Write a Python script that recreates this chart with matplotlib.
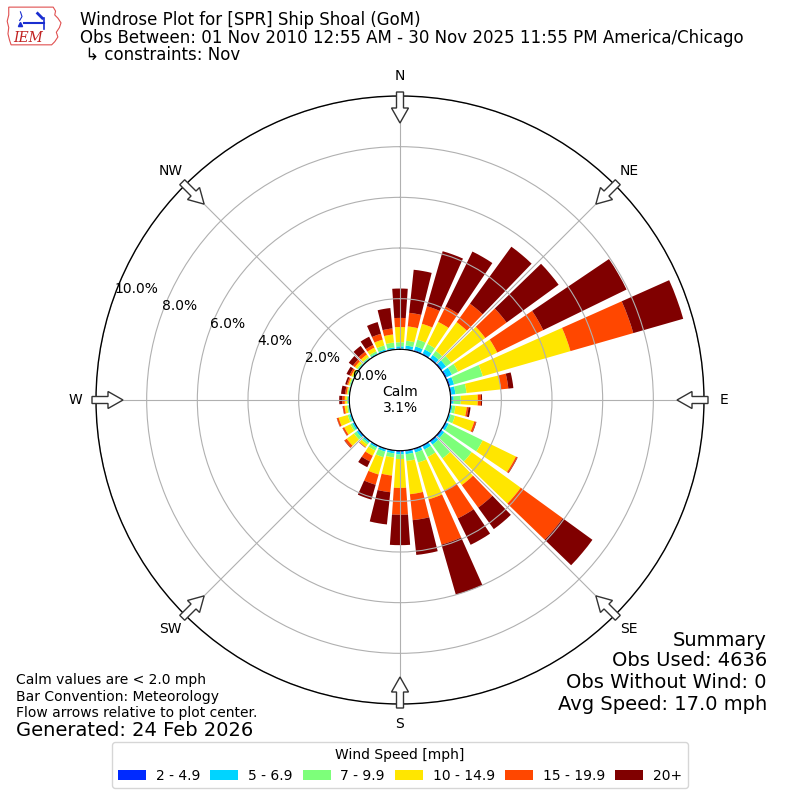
import numpy as np
import matplotlib
matplotlib.use("Agg")
import matplotlib.pyplot as plt
from matplotlib.patches import Patch, Circle, FancyArrow, Polygon

# ---------------- data (percent of observations) ----------------
directions = np.arange(0, 360, 10)  # degrees, direction wind is from
speed_labels = ["2 - 4.9", "5 - 6.9", "7 - 9.9", "10 - 14.9", "15 - 19.9", "20+"]
speed_colors = ["#002aff", "#00d4ff", "#7dff7a", "#ffe600", "#ff4700", "#800000"]

s_2_5 = [.03, .04, .05, .05, .05, .06, .06, .06, .05, .04, .03, .03, .05, .06, .06, .05, .05, .05,
         .05, .04, .04, .04, .04, .05, .04, .03, .02, .02, .02, .02, .02, .02, .02, .02, .02, .03]
s_5_7 = [.09, .12, .15, .17, .15, .19, .22, .16, .15, .08, .05, .06, .09, .10, .12, .13, .11, .10,
         .10, .08, .08, .06, .06, .07, .06, .05, .03, .03, .02, .02, .02, .03, .03, .04, .06, .06]
s_7_10 = [.16, .19, .28, .24, .20, .25, .27, 1.18, .44, .28, .12, .17, 1.49, 1.34, .67, .32, .41, .27,
          .18, .16, .23, .12, .08, .13, .08, .07, .05, .05, .04, .04, .04, .05, .05, .08, .16, .19]
s_10_15 = [.60, .57, .65, .97, 1.40, 1.66, 1.72, 3.60, 1.36, .67, .45, .79, 1.46, 2.39, 1.30, 1.48, 1.51, 1.32,
           1.14, .72, .71, .23, .12, .35, .27, .37, .10, .08, .04, .05, .07, .10, .12, .16, .24, .32]
s_15_20 = [.36, .54, .72, .67, .90, 1.04, 2.02, 2.58, .30, .13, .07, .07, .06, 2.05, 1.10, 1.22, 1.86, 1.03,
           1.06, .66, .42, .25, .02, .10, .07, .07, .07, .10, .06, .05, .07, .10, .13, .12, .24, .24]
s_20p = [1.16, 1.71, 2.26, 2.42, 2.78, 2.54, 3.66, 2.05, .20, .04, .08, .02, .02, 1.45, 1.05, 1.16, 2.06, 1.38,
         1.20, 1.28, .61, .25, .01, .02, .01, .01, .01, .12, .16, .07, .13, .20, .29, .36, .48, .81]
speed_series = [s_2_5, s_5_7, s_7_10, s_10_15, s_15_20, s_20p]

r_ticks = [0, 2, 4, 6, 8, 10]
compass = ["N", "NE", "E", "SE", "S", "SW", "W", "NW"]
compass_deg = [0, 45, 90, 135, 180, 225, 270, 315]
calm_pct = "3.1%"

title_lines = ["Windrose Plot for [SPR] Ship Shoal (GoM)",
               "Obs Between: 01 Nov 2010 12:55 AM - 30 Nov 2025 11:55 PM America/Chicago",
               " \u21b3 constraints: Nov"]
notes = ["Calm values are < 2.0 mph", "Bar Convention: Meteorology",
         "Flow arrows relative to plot center."]
generated = "Generated: 24 Feb 2026"
summary = ["Summary", "Obs Used: 4636", "Obs Without Wind: 0", "Avg Speed: 17.0 mph"]

# ---------------- figure ----------------
fig = plt.figure(figsize=(8, 8), dpi=100)
ax = fig.add_axes([0.12, 0.12, 0.76, 0.76], projection="polar")
ax.set_theta_zero_location("N")
ax.set_theta_direction(-1)
ax.set_rorigin(-2.0)
rmax = 10.0

theta = np.deg2rad(directions)
width = np.deg2rad(8.0)
bottom = np.zeros(len(directions))
for vals, col in zip(speed_series, speed_colors):
    vals = np.asarray(vals)
    ax.bar(theta, vals, width=width, bottom=bottom, color=col, edgecolor="none",
           linewidth=0, zorder=1)
    bottom = bottom + vals

ax.set_ylim(0, rmax)
ax.set_yticks(r_ticks)
ax.set_yticklabels([])
ax.set_xticks(np.deg2rad(compass_deg))
ax.set_xticklabels([])
ax.grid(True, color="#b0b0b0", linewidth=0.8)
ax.spines["polar"].set_color("black")
ax.spines["polar"].set_linewidth(1.0)

# radial labels
lab_ang = np.deg2rad(290)
for r in r_ticks:
    ax.text(lab_ang, r, f"{r:.1f}%", ha="left", va="bottom", fontsize=10, zorder=6)

# compass labels
for lab, d in zip(compass, compass_deg):
    ax.text(np.deg2rad(d), 10.8, lab, ha="center", va="center", fontsize=10)

# calm circle
calm = Circle((0.5, 0.5), 50 / 608, transform=ax.transAxes, facecolor="white",
              edgecolor="black", linewidth=1.2, zorder=4)
ax.add_patch(calm)
ax.text(0.5, 0.5, "Calm\n" + calm_pct, transform=ax.transAxes, ha="center",
        va="center", fontsize=10, zorder=5, linespacing=1.1)

# flow arrows
for d in compass_deg:
    u = np.array([np.sin(np.deg2rad(d)), np.cos(np.deg2rad(d))])
    tail = 0.5 + (308 / 608) * u
    tip = 0.5 + (277 / 608) * u
    arr = FancyArrow(tail[0], tail[1], tip[0] - tail[0], tip[1] - tail[1],
                     width=7 / 608, head_width=17 / 608, head_length=15 / 608,
                     length_includes_head=True, transform=ax.transAxes,
                     facecolor="white", edgecolor="#333333", linewidth=1.0,
                     zorder=7, clip_on=False)
    ax.add_patch(arr)

# titles
for t, yp in zip(title_lines, [20, 38, 55]):
    fig.text(80 / 800, 1 - yp / 800, t, ha="left", va="center", fontsize=12)

# notes
for t, yp in zip(notes, [680, 697, 713]):
    fig.text(16 / 800, 1 - yp / 800, t, ha="left", va="center", fontsize=10)
fig.text(16 / 800, 1 - 731 / 800, generated, ha="left", va="center", fontsize=14)

for t, yp in zip(summary, [640, 661, 683, 705]):
    fig.text(767 / 800, 1 - yp / 800, t, ha="right", va="center", fontsize=14)

# legend
handles = [Patch(facecolor=c, edgecolor="none") for c in speed_colors]
fig.legend(handles, speed_labels, loc="lower center", bbox_to_anchor=(0.5, 0.006),
           ncol=6, title="Wind Speed [mph]", fontsize=10, title_fontsize=10,
           handlelength=2.0, handletextpad=0.7, columnspacing=0.75, frameon=True)

# logo (approximate)
lax = fig.add_axes([0.008, 0.942, 0.078, 0.054])
lax.set_xlim(0, 80)
lax.set_ylim(0, 55)
lax.axis("off")
iowa = [(3, 50), (60, 50), (63, 45), (62, 40), (66, 36), (70, 30), (68, 24), (64, 18),
        (66, 12), (62, 6), (58, 2), (6, 2), (4, 8), (2, 16), (3, 24), (1, 32), (3, 40)]
lax.add_patch(Polygon(iowa, closed=True, facecolor="white", edgecolor="#e05050", linewidth=0.8))
lax.plot([22, 48], [30, 30], color="#1a2ed0", linewidth=1.5)
lax.plot([48, 48], [22, 36], color="#1a2ed0", linewidth=1.2)
lax.plot([40, 46], [42, 36], color="#1a2ed0", linewidth=2.0)
lax.plot([18, 20, 17], [44, 38, 33], color="#1a2ed0", linewidth=0.8)
lax.plot([18], [29], marker="^", color="#1a2ed0", markersize=3)
lax.text(28, 11, "IEM", color="#c02020", fontsize=10, fontstyle="italic",
         family="DejaVu Serif", ha="center", va="center")

fig.savefig("out.png", dpi=100)
